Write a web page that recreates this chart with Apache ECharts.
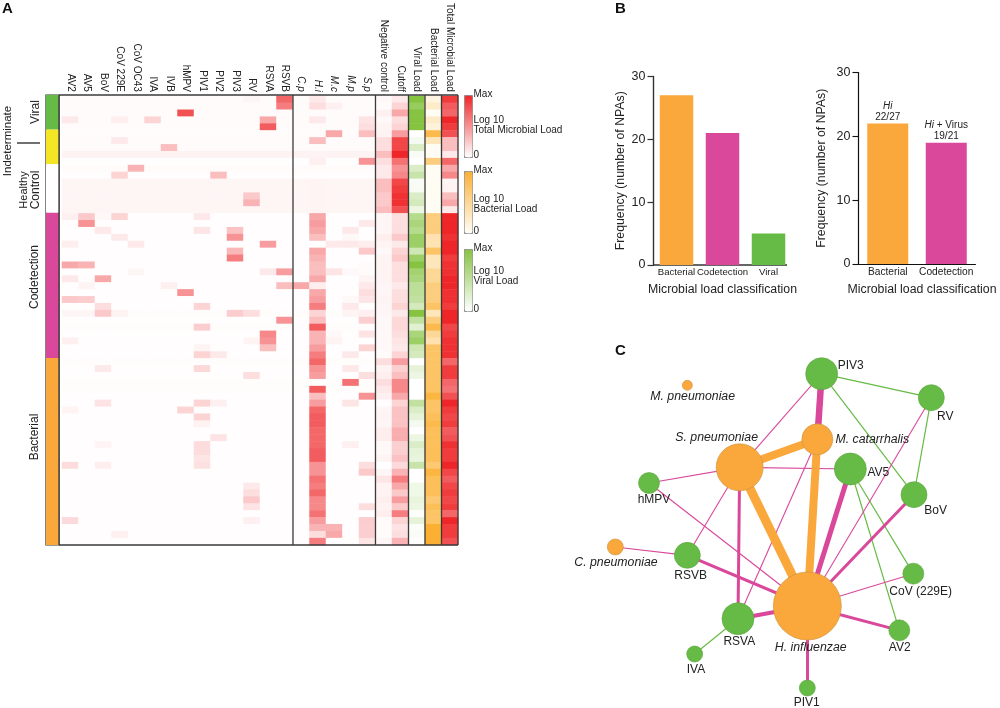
<!DOCTYPE html>
<html><head><meta charset="utf-8">
<style>html,body{margin:0;padding:0;background:#fff}#c{width:1000px;height:708px}</style>
<script src="https://cdn.jsdelivr.net/npm/echarts@6/dist/echarts.min.js"></script>
</head><body><div id="c"></div>
<script>
const FONT='"Liberation Sans",Arial,sans-serif';
const TXT='#222';
const GREEN='#66bb46',ORANGE='#faa83c',PINK='#d9489a',YELLOW='#f5e625';

const columns=['AV2','AV5','BoV','CoV 229E','CoV OC43','IVA','IVB','hMPV','PIV1','PIV2','PIV3','RV','RSVA','RSVB','C.p','H.i','M.c','M.p','S.p','Negative control','Cutoff','Viral Load','Bacterial Load','Total Microbial Load'];
const italicColumns=['C.p','H.i','M.c','M.p','S.p'];
const groupNames=['Viral','Indeterminate','Control','Codetection','Bacterial'];
const groupSizes=[5,5,7,21,27];
const groupColors=[GREEN,YELLOW,'#ffffff',PINK,ORANGE];

// faint tint of each sample row
const rowBase=[.2,.2,.2,.2,.2,.2,.2,.2,.55,.05,.2,.1,.45,.45,.45,.45,.45,.08,.08,.08,.08,.08,.08,.08,.08,.08,.08,.08,.08,.08,.08,.15,.08,.15,.08,.08,.08,.08,.15,.08,.08,.15,.15,.08,.08,.08,.08,.08,.08,.08,.08,.08,.08,.08,.08,.08,.08,.08,.08,.08,.08,.08,.08,.08,.08];

// sparse columns: [row, level]
const cAV2=[[3,1],[17,.7],[21,.8],[24,4],[26,1],[29,2.5],[31,.4],[35,.7],[45,.5],[53,1.6],[61,1.7]];
const cAV5=[[17,2.5],[18,5],[24,3.5],[27,.5],[29,2.3],[31,.4]];
const cBoV=[[17,.3],[19,1],[26,4],[30,1.5],[31,2.5],[39,1],[44,1.3],[50,.5],[53,.8]];
const c229=[[3,.8],[6,1],[11,2],[17,2],[20,1],[31,.6],[63,.7]];
const cOC43=[[10,3.5],[21,1],[25,.4]];
const cIVA=[[3,2]];
const cIVB=[[7,3],[27,.7]];
const cHMPV=[[2,8],[28,5],[45,2]];
const cPIV1=[[17,1],[19,1.2],[30,2],[33,2.3],[36,.5],[37,2],[39,1.8],[44,2],[46,2],[47,.6],[50,1.6],[51,1.6],[52,1.2],[53,1.4]];
const cPIV2=[[11,3],[37,1],[44,.7],[49,1.3]];
const cPIV3=[[19,2.8],[20,5],[22,3.3],[23,6],[31,2.3]];
const cRV=[[0,.4],[14,2.5],[15,3.5],[31,1.5],[35,.5],[40,1.5],[56,1],[57,1.5],[58,2.5],[59,1.3],[61,.7]];
const cRSVA=[[3,4],[4,7.5],[21,4.5],[25,1],[34,5.5],[35,5],[36,3]];
const cRSVB=[[0,7],[1,6],[25,4.5],[27,3],[32,5]];
const cCp=[[27,4]];
const cMc=[[1,.7],[5,4],[21,1],[25,1.2],[34,.3],[35,.5],[62,3.5],[63,4]];
const cMp=[[19,1],[20,.3],[21,1],[25,.3],[29,.3],[30,1],[31,.5],[37,1],[39,1],[41,6.5],[44,1.2],[50,.7]];
const cSp=[[3,1.3],[4,1.5],[5,3],[9,5],[18,1],[21,.8],[22,2.5],[24,.2],[25,.2],[26,.5],[27,1],[28,1.5],[29,1.2],[31,.7],[32,2.2],[34,1.3],[36,2],[40,1.5],[43,5],[53,1.5],[54,2.5],[57,.1],[59,1.5],[61,2.3],[62,2.2],[63,2.2],[64,1.2]];

// full columns, one level per row
const cHi=[1,1.5,0,1,0,0,3,0,.5,.7,.2,0,.5,.5,.5,.5,.5,4,4.5,4,3,0,4,3.5,3,3,4,.8,4,4.5,6,2,3,7.5,3.5,3.5,4.5,6,7,5,4.5,0,7.5,3,4.5,7,7.5,7.5,7,7,7,7.5,7.5,5,5,6.5,6,7,5.5,5.5,6.5,4.5,3.5,1.5,6];
const cNeg=[.3,.2,.7,.3,.5,.6,1.5,1.5,3,1.5,1,1,3,3,2.5,2.5,3,.4,.4,.4,.8,.5,.3,.5,.5,.5,.5,.4,.4,.5,.4,.4,.3,.3,.3,.3,.3,.2,1.5,.6,.8,1.5,1,.7,.1,.4,.5,.4,.8,.8,.3,.3,.5,0,.4,1.2,.6,.6,.8,.6,.8,.2,.2,.2,.4];
const cCut=[1,2,4,1.5,2,4.5,8.5,8.5,10,6.5,5,5.5,8.5,9,9.5,9.5,8,1.5,1.5,1.5,2.5,1,2,2.5,1.5,1.5,1.5,1,1.5,1.5,2,1,1.8,1.8,1.5,1.2,1,2,4.5,2.2,3,5.5,5.5,4,2,2.8,2.8,2.8,3.8,3.8,2.2,2.2,2.8,1.7,3.5,6,4,2.5,4.5,2.5,6,2,1.3,1.5,3.5];
const cViral=[10,8.5,10,10,10,0,.8,3,.5,0,3,4.5,.5,.6,3,3.5,1.5,6,7,6,8,8,4,8,10,7.5,7,5.5,5.5,5,3.5,10,5,2.5,7,8,4,3.5,0,2,1.5,0,0,0,5,3,2,.8,0,1.5,3,2,1.8,4.5,0,0,1.2,1.2,1.8,1.5,.2,2,.3,.5,.2];
const cBact=[1,2,.2,2,1.2,7,2.5,.2,.2,5,.2,.2,.2,.2,.2,.2,.2,5,5,5,3,2.8,6,2.5,2.5,4,4,5,5,5,6,2.5,5,7,4,3,6,6,6,6,6,6,6,7.5,6,6,6.5,7,6.5,6.5,6.5,6.5,6.5,5.5,7.5,6.5,6.5,6.5,5.5,6.5,6,6,8,8,8];
const cTotal=[9,7.5,7,10,9,8,3,3,1,7,4,5.5,.5,.6,3,4,1,10,10,10,9.5,10,10,9,9.5,9.5,10,10,9.5,9.5,9,10,10,8.5,9,9.5,9.5,9.5,7,9,9,7,6.5,8,10,9,8.5,9,7.5,8,9.5,9,9,10,8.5,7.5,8.5,9,8.5,9,7,10,9,9,8];

const sparseColumns=[cAV2,cAV5,cBoV,c229,cOC43,cIVA,cIVB,cHMPV,cPIV1,cPIV2,cPIV3,cRV,cRSVA,cRSVB,cCp,null,cMc,cMp,cSp];
const separators=[14,19,21,22,23];

// panel B
const barCats1=['Bacterial','Codetection','Viral'];
const barVals1=[27,21,5];
const barCats2=['Bacterial','Codetection'];
const barVals2=[22,19];
const barNotes2=['{i|Hi}\n22/27','{i|Hi} + Virus\n19/21'];

// panel C, positions on a 1200 x 1104 field
const nodeNames=['PIV3','RV','M. pneumoniae','M. catarrhalis','S. pneumoniae','AV5','BoV','hMPV','C. pneumoniae','RSVB','CoV (229E)','RSVA','H. influenzae','AV2','IVA','PIV1'];
const nodeX=[695,1024,292,682,449,781,972,177,76,292,970,444,652,928,314,652];
const nodeY=[101,173,136,298,382,387,464,429,621,646,701,836,798,871,942,1044];
const nodeSize=[32,26,10,31,47,32,26,21,16,26,21,32,68,21,16,16];
const nodeLabelX=[782,1066,308,847,380,865,1037,192,78,302,992,448,662,929,318,650];
const nodeLabelY=[76,229,170,300,294,398,511,480,669,706,754,906,924,922,990,1087];
const bacteriaNodes=['M. pneumoniae','M. catarrhalis','S. pneumoniae','C. pneumoniae','H. influenzae'];
const greenEdges=[['PIV3','RV',1.2],['PIV3','BoV',1.2],['RV','BoV',1.2],['AV5','CoV (229E)',1.2],['AV5','AV2',1.2],['RSVA','IVA',1.2]];
const pinkEdges=[['PIV3','S. pneumoniae',1.1],['RV','H. influenzae',1.1],['M. catarrhalis','RSVA',1.1],['S. pneumoniae','AV5',1.1],['S. pneumoniae','hMPV',1.1],['S. pneumoniae','RSVB',1.1],['hMPV','H. influenzae',1.1],['C. pneumoniae','RSVB',1.1],['CoV (229E)','H. influenzae',1.1],['PIV3','M. catarrhalis',6.5],['AV5','H. influenzae',5],['BoV','H. influenzae',3],['RSVB','H. influenzae',3],['RSVA','S. pneumoniae',3],['RSVA','H. influenzae',4],['AV2','H. influenzae',3],['PIV1','H. influenzae',3]];
const orangeEdges=[['S. pneumoniae','M. catarrhalis',8],['S. pneumoniae','H. influenzae',9],['M. catarrhalis','H. influenzae',8]];

const redData=[],greenData=[],orangeData=[];
for(let r=0;r<65;r++){
  sparseColumns.forEach((col,c)=>{
    let v=0;
    if(col){const hit=col.find(p=>p[0]===r); if(hit)v=hit[1];}
    else v=cHi[r];
    redData.push([c,r,Math.max(v,rowBase[r])]);
  });
  redData.push([19,r,cNeg[r]],[20,r,cCut[r]],[23,r,cTotal[r]]);
  greenData.push([21,r,cViral[r]]);
  orangeData.push([22,r,cBact[r]]);
}
const rows=rowBase.map((_,i)=>String(i+1));

const edges=[];
const addEdges=(list,color)=>list.forEach(e=>edges.push({source:e[0],target:e[1],lineStyle:{width:e[2],color:color,opacity:1}}));
addEdges(greenEdges,GREEN);addEdges(pinkEdges,PINK);addEdges(orangeEdges,ORANGE);
const nodes=nodeNames.map((n,i)=>{
  const bac=bacteriaNodes.includes(n);
  return {name:n,value:[nodeX[i],nodeY[i]],symbolSize:nodeSize[i],
    itemStyle:{color:bac?ORANGE:GREEN,borderColor:bac?'#c8913f':'#5aa53e',borderWidth:.6},
    label:{show:true,position:'inside',color:TXT,fontFamily:FONT,fontSize:bac?12.3:12,fontStyle:bac?'italic':'normal',
      offset:[(nodeLabelX[i]-nodeX[i])/3,(nodeLabelY[i]-nodeY[i])/3],formatter:n}};
});

const noAxis={show:false};
const sideText=(t,x,y,size,rot)=>({type:'text',x:x,y:y,rotation:rot===undefined?Math.PI/2:rot,silent:true,
  style:{text:t,fill:TXT,font:size+'px '+FONT,align:'center',verticalAlign:'middle'}});
const legText=(t,x,y)=>({type:'text',x:x,y:y,silent:true,style:{text:t,fill:TXT,font:'10px '+FONT,align:'left',verticalAlign:'middle'}});
const letter=(t,x,y)=>({type:'text',x:x,y:y,silent:true,style:{text:t,fill:'#111',font:'bold 15px '+FONT,align:'left',verticalAlign:'middle'}});

const sepLines=separators.map(s=>[[s,0],[s,65]]).concat([[[-.18,0],[24,0]],[[-.18,65],[24,65]],[[-.18,0],[-.18,65]],[[24,0],[24,65]]]);

const vm=(idx,colors,top,max)=>({type:'continuous',seriesIndex:idx,dimension:2,min:0,max:max,left:464,top:top,itemWidth:8,itemHeight:62,
  text:null,showLabel:false,calculable:false,hoverLink:false,padding:0,borderWidth:1,borderColor:'#8a8a8a',inRange:{color:colors}});

const option={
  animation:false,backgroundColor:'#fff',textStyle:{fontFamily:FONT},
  grid:[
    {left:62,top:95,width:396,height:450},
    {left:46,top:95,width:13,height:450,show:true,borderColor:'#333',borderWidth:1.2},
    {left:59,top:95,width:399,height:450},
    {left:653.5,top:76.5,width:138,height:188.5},
    {left:858.5,top:72.5,width:117,height:191.5},
    {left:590,top:340,width:400,height:368}
  ],
  xAxis:[
    {gridIndex:0,type:'category',position:'top',data:columns.map(c=>italicColumns.includes(c)?{value:c,textStyle:{fontStyle:'italic'}}:c),
      axisLine:noAxis,axisTick:noAxis,splitLine:noAxis,
      axisLabel:{interval:0,rotate:90,fontSize:10,color:TXT,margin:4,fontFamily:FONT}},
    {gridIndex:1,type:'category',data:['class'],show:false},
    {gridIndex:2,type:'value',min:-.18,max:24,show:false},
    {gridIndex:3,type:'category',data:barCats1,axisLine:noAxis,axisTick:noAxis,
      axisLabel:{interval:0,fontSize:9.6,color:TXT,margin:2,fontFamily:FONT},
      name:'Microbial load classification',nameLocation:'middle',nameGap:19,nameTextStyle:{fontSize:12.3,color:TXT,fontFamily:FONT}},
    {gridIndex:4,type:'category',data:barCats2,axisLine:{lineStyle:{color:'#111',width:1.2}},axisTick:noAxis,
      axisLabel:{interval:0,fontSize:10.2,color:TXT,margin:3,fontFamily:FONT},
      name:'Microbial load classification',nameLocation:'middle',nameGap:20,nameTextStyle:{fontSize:12.3,color:TXT,fontFamily:FONT,padding:[0,0,0,10]}},
    {gridIndex:5,type:'value',min:0,max:1200,show:false}
  ],
  yAxis:[
    {gridIndex:0,type:'category',inverse:true,data:rows,show:false},
    {gridIndex:1,type:'value',inverse:true,min:0,max:65,show:false},
    {gridIndex:2,type:'value',inverse:true,min:0,max:65,show:false},
    {gridIndex:3,type:'value',min:0,max:30,interval:10,splitLine:noAxis,
      axisLine:{show:true,lineStyle:{color:'#333',width:1.4}},axisTick:{show:true,length:6,lineStyle:{color:'#333',width:1.2}},
      axisLabel:{fontSize:12.5,color:TXT,margin:8,fontFamily:FONT},
      name:'Frequency (number of NPAs)',nameLocation:'middle',nameGap:27,nameTextStyle:{fontSize:12.3,color:TXT,fontFamily:FONT}},
    {gridIndex:4,type:'value',min:0,max:30,interval:10,splitLine:noAxis,
      axisLine:{show:true,lineStyle:{color:'#111',width:1.2}},axisTick:{show:true,length:6,lineStyle:{color:'#111',width:1.1}},
      axisLabel:{fontSize:12.5,color:TXT,margin:8,fontFamily:FONT},
      name:'Frequency (number of NPAs)',nameLocation:'middle',nameGap:31,nameTextStyle:{fontSize:12.3,color:TXT,fontFamily:FONT}},
    {gridIndex:5,type:'value',inverse:true,min:0,max:1104,show:false}
  ],
  visualMap:[
    vm(0,['#ffffff','#ef2629'],95,10),
    vm(1,['#ffffff','#85c341'],249,10),
    vm(2,['#fffef8','#fbb034'],171,8)
  ],
  series:[
    {type:'heatmap',xAxisIndex:0,yAxisIndex:0,data:redData},
    {type:'heatmap',xAxisIndex:0,yAxisIndex:0,data:greenData},
    {type:'heatmap',xAxisIndex:0,yAxisIndex:0,data:orangeData},
    ...groupSizes.map((n,i)=>({type:'bar',name:groupNames[i],xAxisIndex:1,yAxisIndex:1,stack:'classes',barWidth:'100%',data:[n],itemStyle:{color:groupColors[i]},silent:true})),
    ...sepLines.map(d=>({type:'line',xAxisIndex:2,yAxisIndex:2,data:d,showSymbol:false,symbol:'none',clip:false,silent:true,z:5,lineStyle:{color:'#3a3a3a',width:1.3}})),
    {type:'bar',xAxisIndex:3,yAxisIndex:3,barWidth:33.5,
      data:barVals1.map((v,i)=>({value:v,itemStyle:{color:[ORANGE,PINK,GREEN][i]}}))},
    {type:'bar',xAxisIndex:4,yAxisIndex:4,barWidth:41,
      data:barVals2.map((v,i)=>({value:v,itemStyle:{color:[ORANGE,PINK][i]},
        label:{show:true,position:'top',distance:1,formatter:barNotes2[i],fontSize:10,lineHeight:11,color:TXT,fontFamily:FONT,
          rich:{i:{fontStyle:'italic',fontSize:10,lineHeight:11,color:TXT,fontFamily:FONT}}}}))},
    {type:'graph',coordinateSystem:'cartesian2d',xAxisIndex:5,yAxisIndex:5,layout:'none',data:nodes,edges:edges,silent:true,z:3}
  ],
  graphic:{elements:[
    letter('A',2,9),letter('B',615,9),letter('C',615,351),
    sideText('Viral',36,112,12),
    sideText('Indeterminate',8,141,11.5),
    sideText('Healthy',24,190,11),
    sideText('Control',36,190,12),
    sideText('Codetection',35,277,12),
    sideText('Bacterial',35,437,12),
    {type:'line',silent:true,shape:{x1:17,y1:143,x2:40,y2:143},style:{stroke:'#111',lineWidth:1.2}},
    {type:'line',silent:true,shape:{x1:653,y1:265,x2:787,y2:265},style:{stroke:'#333',lineWidth:1.4}},
    legText('Max',473.5,94),legText('Log 10',473.5,120),legText('Total Microbial Load',473.5,130),legText('0',473.5,155),
    legText('Max',473.5,170),legText('Log 10',473.5,199),legText('Bacterial Load',473.5,209),legText('0',473.5,231),
    legText('Max',473.5,248),legText('Log 10',473.5,271),legText('Viral Load',473.5,281),legText('0',473.5,309)
  ]}
};
echarts.init(document.getElementById('c'),null,{renderer:'canvas'}).setOption(option);
</script>
</body></html>
